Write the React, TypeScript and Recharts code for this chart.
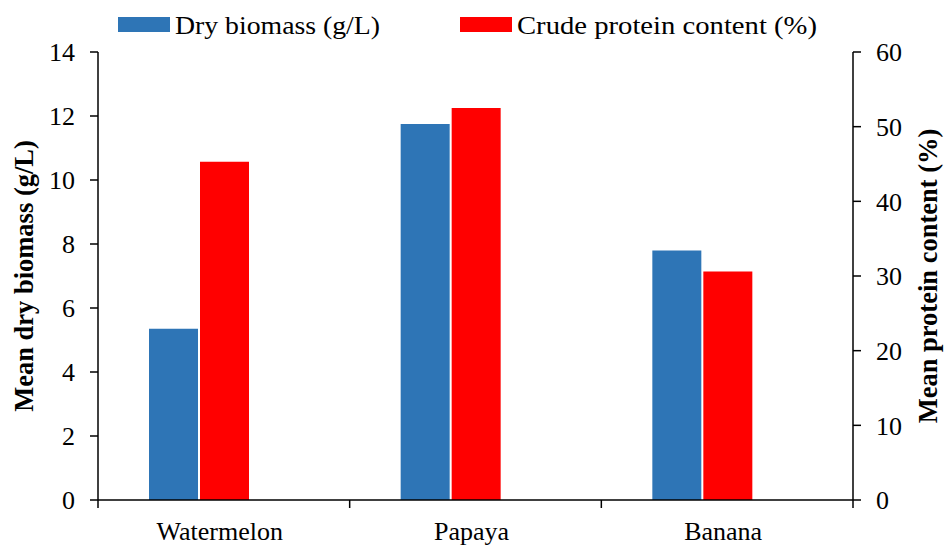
import { BarChart, Bar, XAxis, YAxis } from 'recharts';

const fruits = ['Watermelon', 'Papaya', 'Banana'];
const dryBiomass = [5.35, 11.75, 7.8];
const crudeProtein = [45.3, 52.5, 30.6];
const leftTicks = [0, 2, 4, 6, 8, 10, 12, 14];
const rightTicks = [0, 10, 20, 30, 40, 50, 60];

const W = 946;
const H = 545;
const LEFT = 98;
const RIGHT = 853;
const FONT = '"Liberation Serif", serif';

const data = fruits.map((name, i) => ({
  name,
  biomass: dryBiomass[i],
  protein: crudeProtein[i],
}));

function CategoryTick(props: any) {
  const { x, y, payload, index } = props;
  const bw = (RIGHT - LEFT) / fruits.length;
  return (
    <g>
      <line x1={x - bw / 2} y1={y - 8} x2={x - bw / 2} y2={y} stroke="#000" strokeWidth={1.5} />
      {index === fruits.length - 1 && (
        <line x1={x + bw / 2} y1={y - 8} x2={x + bw / 2} y2={y} stroke="#000" strokeWidth={1.5} />
      )}
      <text x={x - 4} y={y + 32} textAnchor="middle" fontSize={26} fontFamily={FONT} fill="#000">
        {payload.value}
      </text>
    </g>
  );
}

function TopLegend() {
  const items = [
    { label: 'Dry biomass (g/L)', color: '#2E75B6', x: 118, len: 205 },
    { label: 'Crude protein content (%)', color: '#FF0000', x: 460, len: 300 },
  ];
  return (
    <svg width={W} height={50} style={{ position: 'absolute', left: 0, top: 0 }}>
      {items.map((it) => (
        <g key={it.label}>
          <rect x={it.x} y={17} width={52} height={15} fill={it.color} />
          <text
            x={it.x + 57}
            y={34}
            fontSize={25}
            fontFamily={FONT}
            fill="#000"
            textLength={it.len}
            lengthAdjust="spacingAndGlyphs"
          >
            {it.label}
          </text>
        </g>
      ))}
    </svg>
  );
}

const titleStyle = { textAnchor: 'middle', fontSize: 26.5, fontWeight: 'bold', fontFamily: FONT, fill: '#000' };

export default function App() {
  return (
    <div style={{ position: 'absolute', left: 0, top: 0, width: W, height: H, background: '#fff' }}>
      <BarChart
        width={W}
        height={H}
        data={data}
        margin={{ top: 52, right: W - RIGHT - 93, bottom: 0, left: 0 }}
        barCategoryGap={51}
        barGap={2}
      >
        <XAxis
          dataKey="name"
          xAxisId="x"
          height={45}
          axisLine={{ stroke: '#000', strokeWidth: 1.5 }}
          tickLine={false}
          tick={<CategoryTick />}
          interval={0}
        />
        <YAxis
          yAxisId="left"
          width={98}
          domain={[0, 14]}
          ticks={leftTicks}
          axisLine={{ stroke: '#000', strokeWidth: 1.5 }}
          tickLine={{ stroke: '#000', strokeWidth: 1.5 }}
          tickSize={8}
          tickMargin={15}
          tick={{ fontSize: 26, fontFamily: FONT, fill: '#000' }}
          label={{
            value: 'Mean dry biomass (g/L)',
            angle: -90,
            position: 'insideLeft',
            offset: 24,
            style: titleStyle,
          }}
        />
        <YAxis
          yAxisId="right"
          orientation="right"
          width={93}
          domain={[0, 60]}
          ticks={rightTicks}
          axisLine={{ stroke: '#000', strokeWidth: 1.5 }}
          tickLine={{ stroke: '#000', strokeWidth: 1.5 }}
          tickSize={8}
          tickMargin={15}
          tick={{ fontSize: 26, fontFamily: FONT, fill: '#000' }}
          label={{
            value: 'Mean protein content (%)',
            angle: -90,
            position: 'insideRight',
            offset: 18,
            style: titleStyle,
          }}
        />
        <Bar xAxisId="x" yAxisId="left" dataKey="biomass" name="Dry biomass (g/L)" fill="#2E75B6" isAnimationActive={false} />
        <Bar xAxisId="x" yAxisId="right" dataKey="protein" name="Crude protein content (%)" fill="#FF0000" isAnimationActive={false} />
        <Bar xAxisId="x" yAxisId="left" dataKey="unused" legendType="none" fill="none" isAnimationActive={false} />
      </BarChart>
      <TopLegend />
    </div>
  );
}
